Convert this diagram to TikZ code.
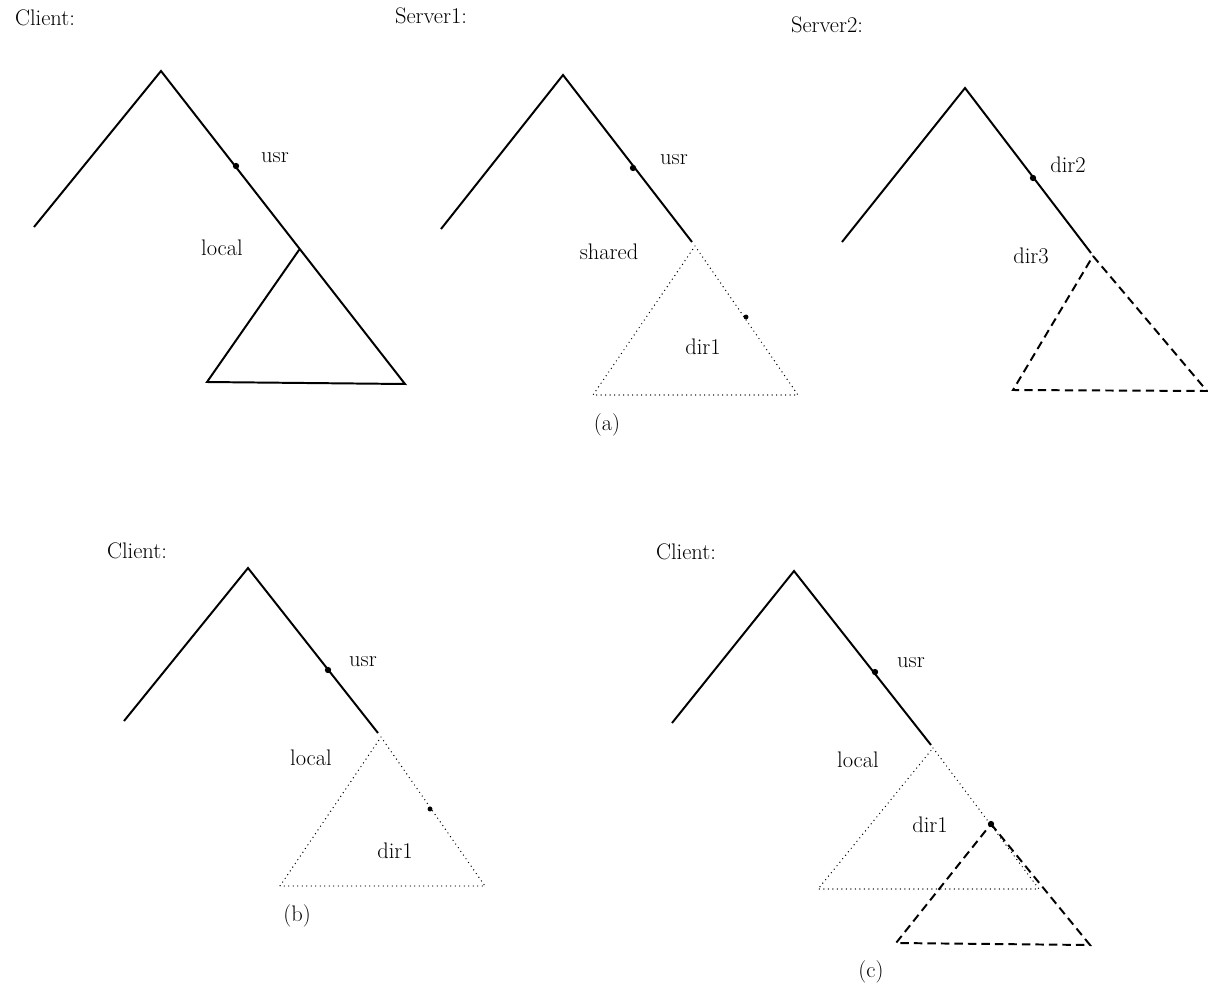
\documentclass[tikz,border=0pt]{standalone}
\usepackage{tikz}
\usetikzlibrary{positioning}

\begin{document}
\begin{tikzpicture}[
  x=0.025cm, y=-0.025cm,
  every node/.style={font=\fontsize{16}{19}\selectfont, inner sep=1pt},
  hdr/.style={font=\fontsize{16}{19}\selectfont},
  tree/.style={line width=1.4pt, line join=miter},
  mnt/.style={line width=1pt, line cap=round, dash pattern=on 0pt off 3.2pt},
  rmt/.style={line width=1.4pt, dash pattern=on 6pt off 3.6pt},
  pin/.style={circle, fill, inner sep=0pt, minimum size=4.5pt},
]
\useasboundingbox (0,0) rectangle (1208,986);

% (a) client tree with a local subtree
\node[hdr] (aCli) at (45,18) {Client:};
\coordinate (aTop) at (161,71);
\coordinate (aLft) at (34,227);
\coordinate (aLoc) at (299,250);
\coordinate (aBL) at (207,382);
\coordinate (aBR) at (405,384);
\draw[tree] (aLft) -- (aTop) -- (aBR) -- (aBL) -- (aLoc);
\node[pin] (aUsr) at (236,166) {};
\node (aUsrL) at (275,158) {usr};
\node (aLocL) at (222,248) {local};

% (a) server1 exports shared
\node[hdr] (s1) at (431,16) {Server1:};
\coordinate (sTop) at (563,75);
\coordinate (sLft) at (441,229);
\coordinate (sEnd) at (692,242);
\draw[tree] (sLft) -- (sTop) -- (sEnd);
\node[pin] (sUsr) at (633,168) {};
\node (sUsrL) at (674,160) {usr};
\node (sShL) at (609,252) {shared};
\coordinate (sApx) at (695,246);
\coordinate (sBL) at (593,395);
\coordinate (sBR) at (798,395);
\draw[mnt] (sApx) -- (sBR) -- (sBL) -- cycle;
\node[pin, minimum size=3.5pt] (sDir) at (746,317) {};
\node (sDirL) at (703,347) {dir1};
\node[hdr] (capA) at (607,425) {(a)};

% (a) server2 exports dir3
\node[hdr] (s2) at (827,25) {Server2:};
\coordinate (tTop) at (965,88);
\coordinate (tLft) at (842,242);
\coordinate (tEnd) at (1091,253);
\draw[tree] (tLft) -- (tTop) -- (tEnd);
\node[pin] (tDir) at (1033,178) {};
\node (tDirL) at (1068,165) {dir2};
\node (tD3L) at (1031,256) {dir3};
\coordinate (tApx) at (1093,256);
\coordinate (tBL) at (1013,390);
\coordinate (tBR) at (1207,391);
\draw[rmt] (tApx) -- (tBR) -- (tBL) -- cycle;

% (b) shared mounted on local
\node[hdr] (bCli) at (137,551) {Client:};
\coordinate (bTop) at (248,568);
\coordinate (bLft) at (124,721);
\coordinate (bEnd) at (378,733);
\draw[tree] (bLft) -- (bTop) -- (bEnd);
\node[pin] (bUsr) at (328,670) {};
\node (bUsrL) at (363,662) {usr};
\node (bLocL) at (311,758) {local};
\coordinate (bApx) at (381,737);
\coordinate (bBL) at (280,886);
\coordinate (bBR) at (485,886);
\draw[mnt] (bApx) -- (bBR) -- (bBL) -- cycle;
\node[pin, minimum size=3.5pt] (bDir) at (430,809) {};
\node (bDirL) at (395,851) {dir1};
\node[hdr] (capB) at (297,916) {(b)};

% (c) dir3 cascaded on local/dir1
\node[hdr] (cCli) at (686,552) {Client:};
\coordinate (cTop) at (794,571);
\coordinate (cLft) at (672,723);
\coordinate (cEnd) at (931,745);
\draw[tree] (cLft) -- (cTop) -- (cEnd);
\node[pin] (cUsr) at (875,672) {};
\node (cUsrL) at (911,663) {usr};
\node (cLocL) at (858,760) {local};
\coordinate (cApx) at (933,748);
\coordinate (cBL) at (818,889);
\coordinate (cBR) at (1039,889);
\draw[mnt] (cApx) -- (cBR) -- (cBL) -- cycle;
\node (cDirL) at (930,825) {dir1};
\node[pin] (cDir) at (991,824) {};
\coordinate (cBL2) at (896,943);
\coordinate (cBR2) at (1090,945);
\draw[rmt] (cDir.center) -- (cBR2) -- (cBL2) -- cycle;
\node[hdr] (capC) at (871,972) {(c)};
\end{tikzpicture}
\end{document}
